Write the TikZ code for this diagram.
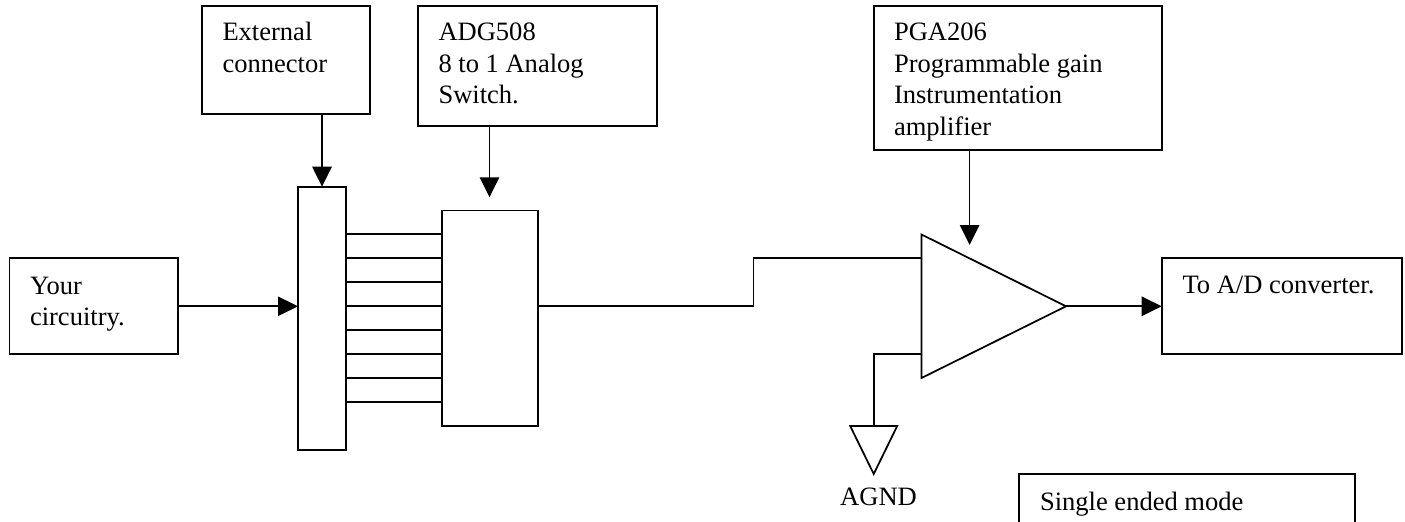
\documentclass[tikz,border=0pt]{standalone}
\usepackage{fontspec}
\setmainfont{Liberation Serif}
\usetikzlibrary{arrows.meta,calc}
\tikzset{
  box/.style={draw, line width=1.4pt, inner sep=0pt, outer sep=0pt, anchor=north west, miter limit=10},
  wire/.style={line width=1.3pt},
  arr/.style={wire, -{Triangle[length=15pt,width=14.5pt]}},
  txt/.style={anchor=base west, inner sep=0pt, outer sep=0pt, font=\fontsize{19.9pt}{23.6pt}\selectfont},
}
\begin{document}
\begin{tikzpicture}[x=0.75pt,y=-0.75pt]
\useasboundingbox (0,0) rectangle (1405,521);
\clip (0,0) rectangle (1405,521);
% boxes
\node[box, minimum width=126pt, minimum height=81.2pt] (ext) at (202,6) {};
\node[box, minimum width=179.25pt, minimum height=90pt] (adg) at (418,6) {};
\node[box, minimum width=126.4pt, minimum height=72pt] (your) at (9.5,258.3) {};
\node[box, minimum width=36pt, minimum height=197.5pt] (conn) at (298,186.7) {};
\node[box, minimum width=72pt, minimum height=161.6pt] (sw) at (442,210.5) {};
\node[box, minimum width=215.8pt, minimum height=108.2pt] (pga) at (874,6) {};
\node[box, minimum width=180.2pt, minimum height=72pt] (toad) at (1161.7,258.3) {};
\node[box, minimum width=252pt, minimum height=66pt] (single) at (1019,474) {};
% texts
\node[txt] (extt) at (222.5,40.7) {\vtop{\hbox{External}\hbox{connector}}};
\node[txt] (adgt) at (438.5,40.7) {\vtop{\hbox{ADG508}\hbox{8 to 1 Analog}\hbox{Switch.}}};
\node[txt] (yourt) at (30,294.3) {\vtop{\hbox{Your}\hbox{circuitry.}}};
\node[txt] (pgat) at (894,40.7) {\vtop{\hbox{PGA206}\hbox{Programmable gain}\hbox{Instrumentation}\hbox{amplifier}}};
\node[txt] (toadt) at (1182.5,293.3) {To A/D converter.};
\node[txt] (singlet) at (1040,510) {Single ended mode};
\node[txt, anchor=base] (agnd) at (878.5,505) {AGND};
% amplifier
\coordinate (amptop) at (921.5,234.5);
\coordinate (ampbot) at (921.5,378);
\coordinate (ampout) at (1066,306.3);
\coordinate (ampin1) at (921.5,258.3);
\coordinate (ampin2) at (921.5,354.3);
\draw[wire, line join=miter] (amptop) -- (ampout) -- (ampbot) -- cycle;
% ground
\coordinate (gnd) at (873.7,426);
\draw[wire] (ampin2) -| (gnd);
\draw[wire, line join=miter] (gnd) +(-23.5,0) -- +(23.5,0) -- +(0,48) -- cycle;
% arrows
\coordinate (adgtip) at (489.5,197.3);
\coordinate (pgatip) at (969.6,245);
\draw[arr] (conn.north |- ext.south) -- (conn.north);
\draw[arr] (adgtip |- adg.south) -- (adgtip);
\draw[arr] (pgatip |- pga.south) -- (pgatip);
\draw[arr] (your.east) -- (your.east -| conn.west);
\draw[arr] (ampout) -- (toad.west);
% parallel lines
\foreach \i in {0,...,7}{
  \draw[wire] (conn.east |- 0,{234.3+24*\i}) -- (sw.west |- 0,{234.3+24*\i});
}
% switch output
\coordinate (kink) at (753.6,306.3);
\draw[wire] (sw.east |- kink) -- (kink) |- (ampin1);
\end{tikzpicture}
\end{document}
